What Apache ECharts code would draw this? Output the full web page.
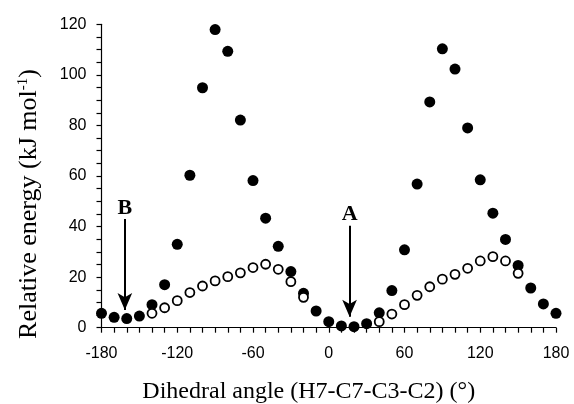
<!DOCTYPE html>
<html>
<head>
<meta charset="utf-8">
<script src="https://cdn.jsdelivr.net/npm/echarts@6/dist/echarts.min.js"></script>
<style>
    html, body { margin: 0; padding: 0; background: #fff; }
    #chart { width: 574px; height: 404px; }
</style>
</head>
<body>
<div id="chart"></div>
<script>
// dihedral angles, every 10 degrees
let angles = [-180, -170, -160, -150, -140, -130, -120, -110, -100, -90, -80, -70, -60, -50, -40, -30, -20, -10,
    0, 10, 20, 30, 40, 50, 60, 70, 80, 90, 100, 110, 120, 130, 140, 150, 160, 170, 180];
// filled circles
let rigidEnergy = [5.7, 4.1, 3.6, 4.6, 9.1, 17.0, 33.0, 60.3, 94.9, 117.9, 109.3, 82.1, 58.2, 43.3, 32.2, 22.2, 13.6, 6.6,
    2.4, 0.7, 0.4, 1.6, 5.9, 14.7, 30.8, 56.8, 89.3, 110.3, 102.3, 79.0, 58.5, 45.3, 34.9, 24.6, 15.7, 9.4, 5.7];
// open circles (null where hidden under the filled ones)
let relaxedEnergy = [null, null, null, null, 5.7, 7.9, 10.7, 13.9, 16.5, 18.5, 20.2, 21.7, 23.8, 25.1, 23.1, 18.2, 12.0, null,
    null, null, null, null, 2.4, 5.4, 9.1, 12.8, 16.2, 19.2, 21.1, 23.5, 26.4, 28.1, 26.4, 21.5, null, null, null];
let xTicks = [-180, -120, -60, 0, 60, 120, 180];
let yTicks = [0, 20, 40, 60, 80, 100, 120];
// arrows: [label, angle, top, bottom]
let arrows = [['B', -161.5, 43, 7], ['A', 16.5, 40.3, 4.3]];

function pairs(vals) {
    let out = [];
    for (let i = 0; i < angles.length; i++) {
        if (vals[i] !== null) out.push([angles[i], vals[i]]);
    }
    return out;
}

let black = {color: '#000', width: 1.2};

let myChart = echarts.init(document.getElementById("chart"));
let option = {
    backgroundColor: "#ffffff",
    animation: false,
    grid: {left: 101.5, right: 18, top: 24.3, bottom: 76.3, outerBoundsMode: 'none'},
    xAxis: {
        type: 'value',
        min: xTicks[0],
        max: xTicks[xTicks.length - 1],
        interval: 60,
        splitLine: {show: false},
        axisLine: {show: true, onZero: false, lineStyle: black},
        axisTick: {show: true, length: 5, lineStyle: black},
        minorTick: {show: true, splitNumber: 6, length: 5, lineStyle: black},
        axisLabel: {
            color: '#000',
            fontFamily: 'Liberation Sans',
            fontSize: 16,
            margin: 18
        },
        name: 'Dihedral angle (H7-C7-C3-C2) (°)',
        nameLocation: 'middle',
        nameGap: 52,
        nameTextStyle: {color: '#000', fontFamily: 'Liberation Serif', fontSize: 24, padding: [0, 0, 0, -40]}
    },
    yAxis: {
        type: 'value',
        min: yTicks[0],
        max: yTicks[yTicks.length - 1],
        interval: 20,
        splitLine: {show: false},
        axisLine: {show: true, onZero: false, lineStyle: black},
        axisTick: {show: true, length: 5, lineStyle: black},
        minorTick: {show: true, splitNumber: 4, length: 5, lineStyle: black},
        axisLabel: {
            color: '#000',
            fontFamily: 'Liberation Sans',
            fontSize: 16,
            margin: 15
        },
        name: '{a|Relative energy (kJ mol}{s|-1}{a|)}',
        nameLocation: 'middle',
        nameGap: 58,
        nameTextStyle: {
            color: '#000',
            padding: [0, 56, 0, 0],
            rich: {
                a: {fontFamily: 'Liberation Serif', fontSize: 26, color: '#000'},
                s: {fontFamily: 'Liberation Serif', fontSize: 15, color: '#000', padding: [0, 0, 13, 0]}
            }
        }
    },
    series: [
        {
            name: 'rigid',
            type: 'scatter',
            symbol: 'circle',
            symbolSize: 11,
            itemStyle: {color: '#000', opacity: 1},
            data: pairs(rigidEnergy),
            z: 2,
            markLine: {
                silent: true,
                symbol: ['none', 'arrow'],
                symbolSize: [11, 17],
                lineStyle: {color: '#000', width: 2, type: 'solid', opacity: 1},
                label: {
                    show: true,
                    position: 'start',
                    distance: 0,
                    color: '#000',
                    fontFamily: 'Liberation Serif',
                    fontWeight: 'bold',
                    fontSize: 22,
                    formatter: function (p) { return p.name; }
                },
                data: arrows.map(function (a) {
                    return [{name: a[0], coord: [a[1], a[2]]}, {coord: [a[1], a[3]]}];
                })
            }
        },
        {
            name: 'relaxed',
            type: 'scatter',
            symbol: 'circle',
            symbolSize: 9,
            itemStyle: {color: '#fff', borderColor: '#000', borderWidth: 1.8, opacity: 1},
            data: pairs(relaxedEnergy),
            z: 3
        }
    ]
};
myChart.setOption(option);
</script>
</body>
</html>
